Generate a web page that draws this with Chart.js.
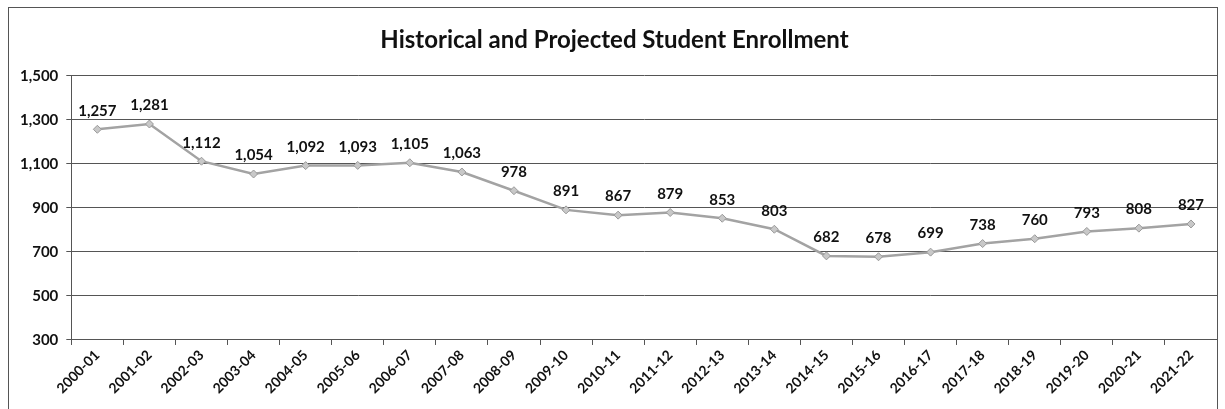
<!DOCTYPE html>
<html>
<head>
<meta charset="utf-8">
<script src="https://cdn.jsdelivr.net/npm/chart.js@4"></script>
<style>
  html, body { margin: 0; padding: 0; background: #fff; overflow: hidden; }
  .frame {
    position: absolute; left: 8px; top: 7px; width: 1210px; height: 420px;
    border: 1px solid #555; box-sizing: border-box;
  }
  .wrap { position: absolute; left: 0; top: 0; width: 1225px; height: 409px; }
</style>
</head>
<body>
<div class="frame"></div>
<div class="wrap"><canvas id="chart"></canvas></div>
<script>
const years = ["2000-01", "2001-02", "2002-03", "2003-04", "2004-05", "2005-06", "2006-07",
  "2007-08", "2008-09", "2009-10", "2010-11", "2011-12", "2012-13", "2013-14", "2014-15",
  "2015-16", "2016-17", "2017-18", "2018-19", "2019-20", "2020-21", "2021-22"];
const enrollment = [1257, 1281, 1112, 1054, 1092, 1093, 1105, 1063, 978, 891, 867, 879,
  853, 803, 682, 678, 699, 738, 760, 793, 808, 827];
const yTicks = [300, 500, 700, 900, 1100, 1300, 1500];

// draws the value above each point
const pointLabels = {
  id: "pointLabels",
  afterDatasetsDraw(chart) {
    const ctx = chart.ctx;
    const meta = chart.getDatasetMeta(0);
    ctx.save();
    ctx.font = "bold 15px Lato, 'Open Sans', sans-serif";
    ctx.fillStyle = "#111";
    ctx.textAlign = "center";
    ctx.textBaseline = "bottom";
    meta.data.forEach((pt, i) => {
      ctx.fillText(enrollment[i].toLocaleString("en-US"), pt.x, pt.y - 11);
    });
    ctx.restore();
  }
};

new Chart(document.getElementById("chart"), {
  type: "line",
  data: {
    labels: years,
    datasets: [{
      data: enrollment,
      borderColor: "#a3a3a3",
      borderWidth: 2.5,
      pointStyle: "rectRot",
      pointRadius: 4,
      pointBackgroundColor: "#c8c8c8",
      pointBorderColor: "#999",
      pointBorderWidth: 1,
      tension: 0
    }]
  },
  options: {
    responsive: true,
    maintainAspectRatio: false,
    animation: false,
    layout: { padding: { left: 12, right: 8, top: 22, bottom: 10 } },
    plugins: {
      legend: { display: false },
      tooltip: { enabled: false },
      title: {
        display: true,
        text: "Historical and Projected Student Enrollment",
        color: "#111",
        font: { family: "Lato, 'Open Sans', sans-serif", size: 24, weight: "bold" },
        padding: { top: 4, bottom: 21 }
      }
    },
    scales: {
      x: {
        offset: true,
        grid: { display: true, drawOnChartArea: false, offset: true, tickLength: 5, color: "#555" },
        border: { color: "#555" },
        ticks: {
          color: "#111",
          maxRotation: 45,
          minRotation: 45,
          autoSkip: false,
          padding: 2,
          font: { family: "Lato, 'Open Sans', sans-serif", size: 14, weight: "bold" }
        }
      },
      y: {
        min: 300,
        max: 1500,
        afterBuildTicks(axis) { axis.ticks = yTicks.map(v => ({ value: v })); },
        grid: { color: "#555", tickLength: 5 },
        border: { color: "#555" },
        ticks: {
          color: "#111",
          padding: 8,
          callback: v => v.toLocaleString("en-US"),
          font: { family: "Lato, 'Open Sans', sans-serif", size: 15, weight: "bold" }
        }
      }
    }
  },
  plugins: [pointLabels]
});
</script>
</body>
</html>
